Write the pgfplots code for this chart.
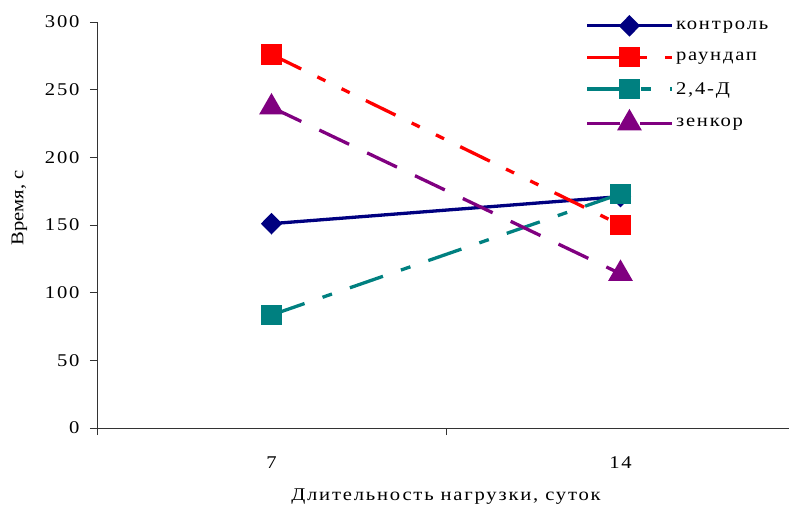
\documentclass[border=0pt]{standalone}
\usepackage{fontspec}
\setmainfont{Liberation Serif}[FakeStretch=1.15, LetterSpace=10]
\usepackage{pgfplots}
\pgfplotsset{compat=1.18}
\definecolor{cnavy}{RGB}{0,0,128}
\definecolor{cred}{RGB}{255,0,0}
\definecolor{cteal}{RGB}{0,128,128}
\definecolor{cpurple}{RGB}{128,0,128}
\begin{document}
\begin{tikzpicture}
\begin{axis}[
  scale only axis, width=698bp, height=406bp,
  xmin=-0.5, xmax=1.5, ymin=0, ymax=300,
  axis x line*=bottom, axis y line*=left,
  axis line style={line width=0.8bp, black!80},
  xtick={-0.5,0.5,1.5}, xticklabels={7,14}, x tick label as interval,
  ytick={0,50,...,300},
  tick align=outside, major tick length=7bp,
  tick style={line width=0.8bp, black!80},
  /pgf/number format/assume math mode=true,
  ticklabel style={font=\fontsize{18}{21}\selectfont},
  xticklabel style={yshift=-18bp},
  yticklabel style={xshift=-7bp},
  xlabel={Длительность нагрузки, суток},
  ylabel={Время, с},
  label style={font=\fontsize{18}{21}\selectfont},
  xlabel style={yshift=-14bp},
  ylabel style={font=\fontsize{18}{21}\selectfont\addfontfeature{LetterSpace=0}, yshift=11bp, xshift=17bp},
  legend style={draw=none, fill=none, at={(rel axis cs:0.70,1.012)}, anchor=north west,
    font=\fontsize{18}{21}\selectfont, row sep=14.5bp, inner sep=0pt},
  legend cell align=left,
  legend image code/.code={\draw[mark repeat=2,mark phase=2,#1] plot coordinates {(0bp,0bp) (42bp,0bp) (85bp,0bp)};},
]
\addplot[cnavy, line width=3.3bp, mark=diamond*, mark size=8.5bp, mark options={solid, xscale=1.3}]
  coordinates {(0,151) (1,171)};
\addlegendentry{контроль}
\addplot[cred, line width=3.3bp, dash pattern=on 33bp off 18bp on 9bp off 18bp on 9bp off 18bp, mark=square*, mark size=8.5bp, mark options={solid}]
  coordinates {(0,276) (1,150)};
\addlegendentry{раундап}
\addplot[cteal, line width=3.3bp, dash pattern=on 35bp off 19bp on 10bp off 19bp, mark=square*, mark size=8.5bp, mark options={solid}]
  coordinates {(0,83.5) (1,173)};
\addlegendentry{2,4-Д}
\addplot[cpurple, line width=3.3bp, dash pattern=on 33bp off 20bp, mark=triangle*, mark size=11bp, mark options={solid}]
  coordinates {(0,237) (1,114)};
\addlegendentry{зенкор}
\end{axis}
\pgfresetboundingbox
\path ([xshift=-97bp,yshift=-80bp]current axis.south west) rectangle ([xshift=-6bp,yshift=22bp]current axis.north east);
\end{tikzpicture}
\end{document}
